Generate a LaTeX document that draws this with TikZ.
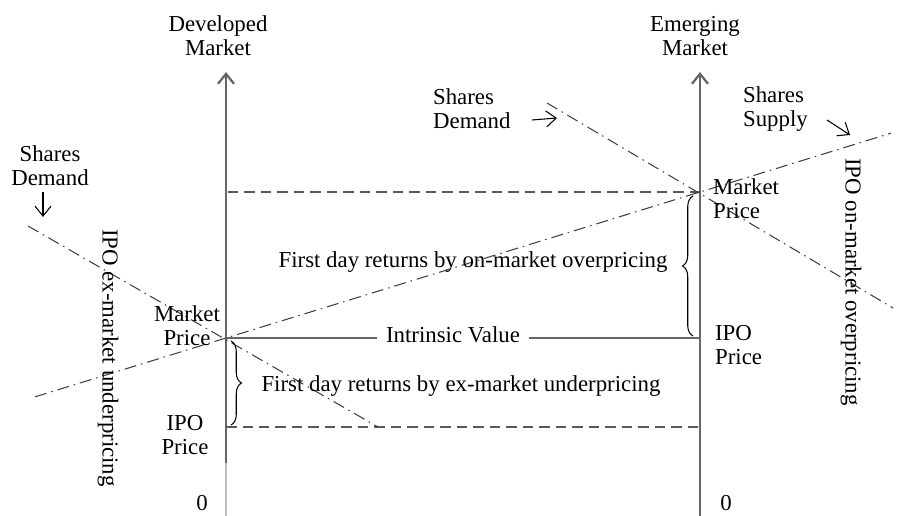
\documentclass[tikz,border=0pt]{standalone}
\usepackage{fontspec}
\setmainfont{Liberation Serif}
\usetikzlibrary{arrows.meta,decorations.pathreplacing,calc}

\begin{document}
\fontsize{13}{13.6}\selectfont
\begin{tikzpicture}[x=0.02cm, y=-0.02cm, >={Straight Barb[length=2mm,width=3.2mm]},
  axis/.style={draw=black!60, line width=1.3pt},
  price/.style={draw=black!65, line width=1pt, dash pattern=on 2.1mm off 1.2mm},
  curve/.style={draw=black!75, line width=0.6pt, dash pattern=on 2.4mm off 1mm on 0.3mm off 1mm},
  label/.style={align=center, inner sep=1pt},
  pointer/.style={->, line width=0.6pt},
  bracket/.style={decorate, decoration={brace, amplitude=6pt}, line width=0.6pt}]
  \useasboundingbox (0,0) rectangle (901,516);

  % axes
  \coordinate (dmTop) at (226,72);
  \coordinate (dmEnd) at (226,463);
  \coordinate (dm0) at (226,516);
  \coordinate (emTop) at (700,72);
  \coordinate (em0) at (700,516);
  % price levels
  \coordinate (mpL) at (226,338);
  \coordinate (ipoL) at (226,427);
  \coordinate (mpR) at (700,192);
  \coordinate (ipoR) at (700,338);

  \node[label] (dm) at (218,36) {Developed\\Market};
  \node[label] (em) at (695,36) {Emerging\\Market};
  \draw[axis,->] (dmEnd) -- (dmTop);
  \draw[black!25, line width=0.6pt] (dm0) -- (dmEnd);
  \draw[axis,->] (em0) -- (emTop);
  \node[label] (zeroL) at (202,503) {0};
  \node[label] (zeroR) at (726,503) {0};

  % price lines
  \draw[price] (mpR) -- (mpR -| dmTop);
  \draw[price] (ipoL) -- (ipoL -| emTop);
  \node[label, inner sep=5pt] (iv) at (453,335) {Intrinsic Value};
  \draw[axis] (mpL) -- (iv.west |- mpL);
  \draw[axis] (iv.east |- ipoR) -- (ipoR);

  % supply and demand
  \draw[curve] ($(mpL)!-0.403!(mpR)$) -- ($(mpL)!1.403!(mpR)$);
  \draw[curve] (28,226) -- (378,427);
  \draw[curve] (547,103) -- (893,308);

  \node[label] (sdL) at (50,166) {Shares\\Demand};
  \draw[pointer] (43,192) -- (43,217);
  \node[label, align=left, anchor=west] (sdR) at (431,109) {Shares\\Demand};
  \draw[pointer] (532,120) -- (557,118);
  \node[label, align=left, anchor=west] (ss) at (741,109) {Shares\\Supply};
  \draw[pointer] (827,120) -- (850,135);

  % price labels
  \node[label] (mpLtext) at (187,326) {Market\\Price};
  \node[label] (ipoLtext) at (185,435) {IPO\\Price};
  \node[label, align=left, anchor=west] (mpRtext) at (711,199) {Market\\Price};
  \node[label, align=left, anchor=west] (ipoRtext) at (713,345) {IPO\\Price};

  % first day returns
  \draw[bracket] (693,336) -- (693,196);
  \node[label] (over) at (473,262) {First day returns by on-market overpricing};
  \draw[bracket] (231,341) -- (231,425);
  \node[label] (under) at (461,386) {First day returns by ex-market underpricing};

  \node[label, rotate=-90] (exm) at (108,358) {IPO ex-market underpricing};
  \node[label, rotate=-90] (onm) at (851,282) {IPO on-market overpricing};
\end{tikzpicture}
\end{document}
